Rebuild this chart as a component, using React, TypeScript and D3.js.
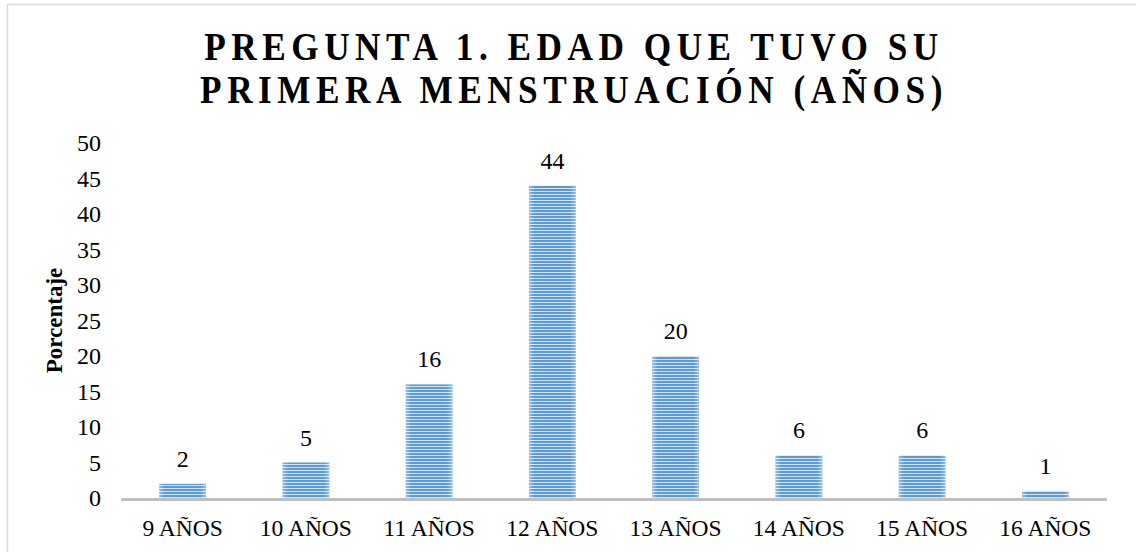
import * as d3 from 'd3'

const categories = ['9 AÑOS', '10 AÑOS', '11 AÑOS', '12 AÑOS', '13 AÑOS', '14 AÑOS', '15 AÑOS', '16 AÑOS']
const values = [2, 5, 16, 44, 20, 6, 6, 1]
const yTicks = [0, 5, 10, 15, 20, 25, 30, 35, 40, 45, 50]
const titleLines = ['PREGUNTA 1. EDAD QUE TUVO SU', 'PRIMERA MENSTRUACIÓN (AÑOS)']
const yLabel = 'Porcentaje'

export default function App() {
  const width = 1136
  const height = 552
  const marginLeft = 121
  const marginRight = 29
  const plotTop = 143
  const plotBottom = 498

  // x band scale
  const x = d3
    .scaleBand()
    .domain(categories)
    .range([marginLeft, width - marginRight])
    .paddingInner(0.62)
    .paddingOuter(0.31)

  // y linear scale
  const y = d3.scaleLinear().domain([0, 50]).range([plotBottom, plotTop])

  const font = 'Liberation Serif'
  const sx = 0.86

  return (
    <svg
      width={width}
      height={height}
      style={{ position: 'absolute', left: 0, top: 0, background: '#fff', fontFamily: font }}
    >
      <defs>
        <pattern id="stripes" width="6" height="3" patternUnits="userSpaceOnUse">
          <rect width="6" height="3" fill="#d3e3f4" />
          <rect width="6" height="2" fill="#5b9bd5" />
        </pattern>
        <linearGradient id="edges" x1="0" x2="1" y1="0" y2="0">
          <stop offset="0" stopColor="#ffffff" stopOpacity="0.35" />
          <stop offset="0.12" stopColor="#ffffff" stopOpacity="0" />
          <stop offset="0.88" stopColor="#ffffff" stopOpacity="0" />
          <stop offset="1" stopColor="#ffffff" stopOpacity="0.35" />
        </linearGradient>
      </defs>

      {/* chart border */}
      <rect x={7.5} y={4.5} width={1140} height={560} fill="none" stroke="#d9d9d9" strokeWidth={1.5} />

      {/* title, narrow letters with wide spacing */}
      <g transform={`translate(574,0) scale(${sx},1)`} fontWeight="bold" fontSize={41} letterSpacing={6.4} textAnchor="middle" fill="#000">
        {titleLines.map((t, i) => (
          <text key={i} x={0} y={60 + i * 43}>
            {t}
          </text>
        ))}
      </g>

      {/* y tick labels */}
      <g fontSize={24} textAnchor="end" fill="#000">
        {yTicks.map((t) => (
          <text key={t} x={101} y={y(t)} dy="0.35em">
            {t}
          </text>
        ))}
      </g>

      {/* y axis title */}
      <text
        transform={`translate(62,${(plotTop + plotBottom) / 2}) rotate(-90)`}
        fontWeight="bold"
        fontSize={23}
        textAnchor="middle"
        fill="#000"
      >
        {yLabel}
      </text>

      {/* bars */}
      <g>
        {values.map((v, i) => (
          <g key={i}>
            <rect
              x={x(categories[i])}
              y={y(v)}
              width={x.bandwidth()}
              height={y(0) - y(v)}
              fill="url(#stripes)"
            />
            <rect
              x={x(categories[i])}
              y={y(v)}
              width={x.bandwidth()}
              height={y(0) - y(v)}
              fill="url(#edges)"
            />
          </g>
        ))}
      </g>

      {/* axis line */}
      <line x1={marginLeft} x2={width - marginRight} y1={plotBottom + 1.5} y2={plotBottom + 1.5} stroke="#bfbfbf" strokeWidth={3} />

      {/* value labels */}
      <g fontSize={24} textAnchor="middle" fill="#000">
        {values.map((v, i) => (
          <text key={i} x={(x(categories[i]) as number) + x.bandwidth() / 2} y={y(v) - 17}>
            {v}
          </text>
        ))}
      </g>

      {/* x labels */}
      <g fontSize={23.5} textAnchor="middle" fill="#000">
        {categories.map((c) => (
          <text key={c} x={(x(c) as number) + x.bandwidth() / 2} y={536}>
            {c}
          </text>
        ))}
      </g>
    </svg>
  )
}
